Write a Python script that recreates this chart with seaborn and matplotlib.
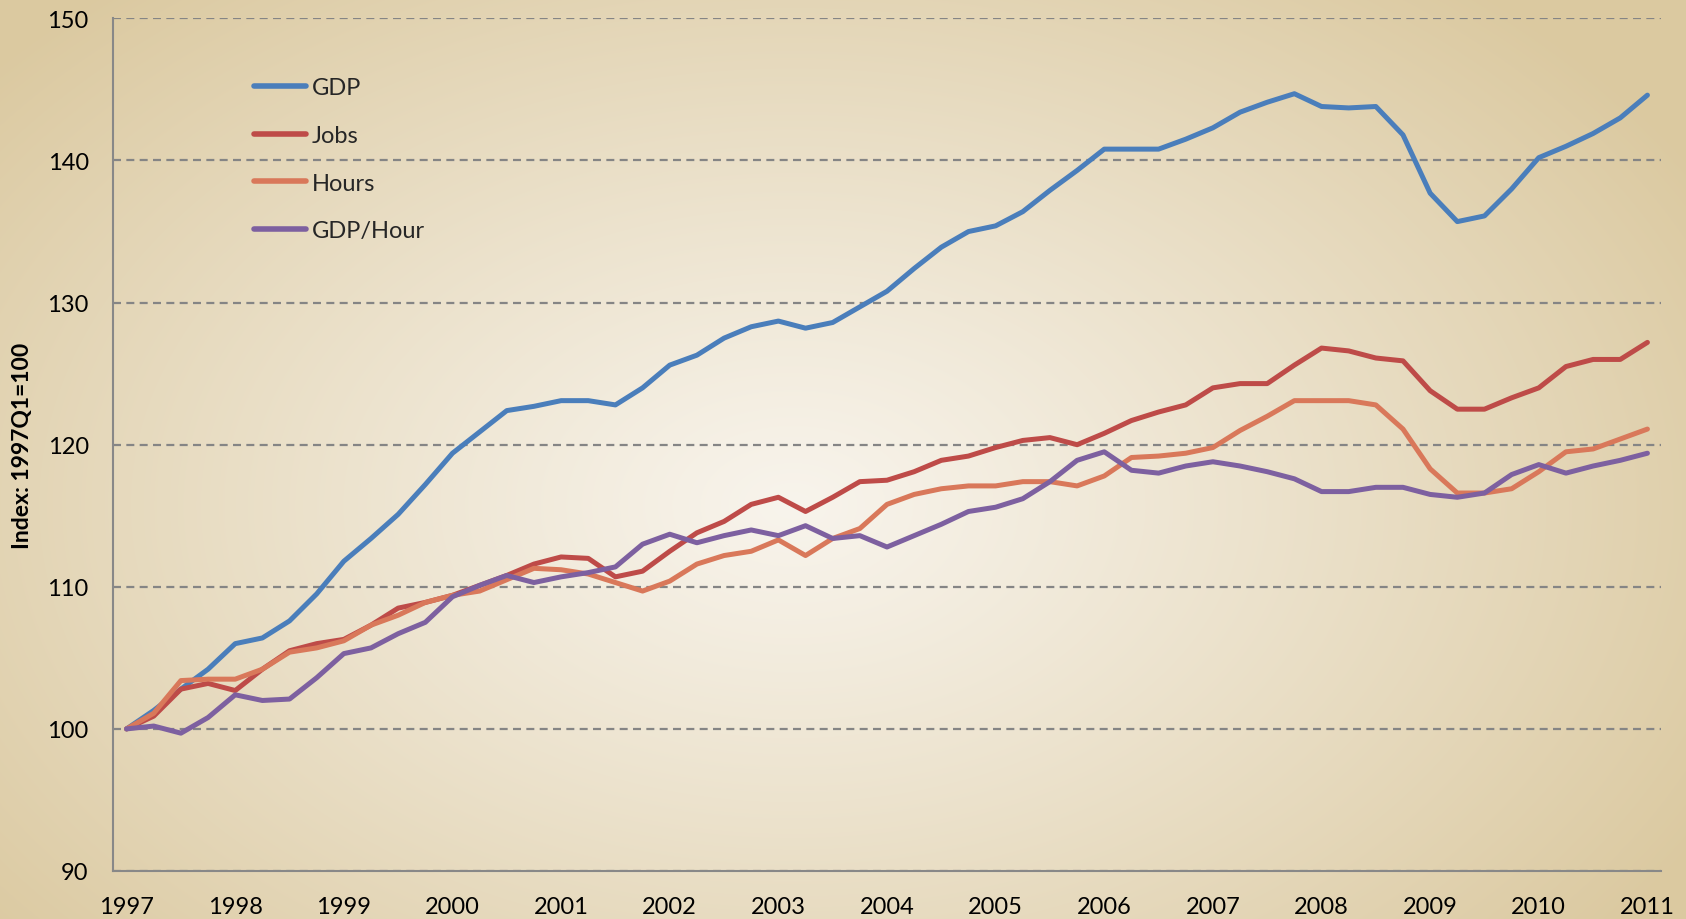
import numpy as np
import pandas as pd
import matplotlib
matplotlib.use("Agg")
import matplotlib.pyplot as plt
from matplotlib.ticker import FixedLocator
import seaborn as sns

years = [str(y) for y in range(1997, 2012)]
quarters = [f"{y}Q{q}" for y in range(1997, 2012) for q in range(1, 5)][:57]

gdp = [100.0, 101.3, 102.8, 104.2, 106.0, 106.4, 107.6, 109.5, 111.8, 113.4, 115.1, 117.2,
       119.4, 120.9, 122.4, 122.7, 123.1, 123.1, 122.8, 124.0, 125.6, 126.3, 127.5, 128.3,
       128.7, 128.2, 128.6, 129.7, 130.8, 132.4, 133.9, 135.0, 135.4, 136.4, 137.9, 139.3,
       140.8, 140.8, 140.8, 141.5, 142.3, 143.4, 144.1, 144.7, 143.8, 143.7, 143.8, 141.8,
       137.7, 135.7, 136.1, 138.0, 140.2, 141.0, 141.9, 143.0, 144.6]
jobs = [100.0, 100.9, 102.8, 103.2, 102.7, 104.2, 105.5, 106.0, 106.3, 107.3, 108.5, 108.9,
        109.4, 110.1, 110.8, 111.6, 112.1, 112.0, 110.7, 111.1, 112.5, 113.8, 114.6, 115.8,
        116.3, 115.3, 116.3, 117.4, 117.5, 118.1, 118.9, 119.2, 119.8, 120.3, 120.5, 120.0,
        120.8, 121.7, 122.3, 122.8, 124.0, 124.3, 124.3, 125.6, 126.8, 126.6, 126.1, 125.9,
        123.8, 122.5, 122.5, 123.3, 124.0, 125.5, 126.0, 126.0, 127.2]
hours = [100.0, 101.1, 103.4, 103.5, 103.5, 104.2, 105.4, 105.7, 106.2, 107.3, 108.0, 108.9,
         109.4, 109.7, 110.5, 111.3, 111.2, 110.9, 110.3, 109.7, 110.4, 111.6, 112.2, 112.5,
         113.3, 112.2, 113.4, 114.1, 115.8, 116.5, 116.9, 117.1, 117.1, 117.4, 117.4, 117.1,
         117.8, 119.1, 119.2, 119.4, 119.8, 121.0, 122.0, 123.1, 123.1, 123.1, 122.8, 121.1,
         118.3, 116.6, 116.6, 116.9, 118.1, 119.5, 119.7, 120.4, 121.1]
gdp_hour = [100.0, 100.2, 99.7, 100.8, 102.4, 102.0, 102.1, 103.6, 105.3, 105.7, 106.7, 107.5,
            109.3, 110.1, 110.8, 110.3, 110.7, 111.0, 111.4, 113.0, 113.7, 113.1, 113.6, 114.0,
            113.6, 114.3, 113.4, 113.6, 112.8, 113.6, 114.4, 115.3, 115.6, 116.2, 117.4, 118.9,
            119.5, 118.2, 118.0, 118.5, 118.8, 118.5, 118.1, 117.6, 116.7, 116.7, 117.0, 117.0,
            116.5, 116.3, 116.6, 117.9, 118.6, 118.0, 118.5, 118.9, 119.4]

series_names = ["GDP", "Jobs", "Hours", "GDP/Hour"]
colors = ["#4a7ebb", "#be4b48", "#d9785a", "#7d60a0"]

idx = np.arange(len(quarters))
df = pd.concat([
    pd.DataFrame({"t": idx, "value": vals, "series": name})
    for name, vals in zip(series_names, [gdp, jobs, hours, gdp_hour])
])

sns.set_theme(style="white")
plt.rcParams["font.family"] = ["Lato", "DejaVu Sans"]

W, H = 1686, 920
fig = plt.figure(figsize=(W / 100, H / 100), dpi=100)

# radial gradient background
bg = fig.add_axes([0, 0, 1, 1], zorder=-10)
yy, xx = np.mgrid[0:H, 0:W]
cx, cy = 0.47 * W, 0.55 * H
r = np.sqrt(((xx - cx) / (0.62 * W)) ** 2 + ((yy - cy) / (0.75 * H)) ** 2)
r = np.clip(r, 0, 1)
inner = np.array([0xf8, 0xf4, 0xec]) / 255
outer = np.array([0xdb, 0xc9, 0xa0]) / 255
t = r ** 1.1
img = inner[None, None, :] * (1 - t[..., None]) + outer[None, None, :] * t[..., None]
bg.imshow(img, aspect="auto", extent=[0, 1, 0, 1])
bg.set_axis_off()

ax = fig.add_axes([113 / W, 1 - 872 / H, (1661 - 113) / W, (872 - 19.4) / H])
ax.set_facecolor("none")

sns.lineplot(data=df, x="t", y="value", hue="series", hue_order=series_names,
             palette=colors, linewidth=3.6, ax=ax, legend=True)

ax.set_xlim(-0.5, len(quarters) - 0.5)
ax.set_ylim(90, 150)
ax.set_yticks(range(90, 151, 10))
ax.yaxis.grid(True, linestyle=(0, (3.6, 2.4)), color="#858585", linewidth=1.6)
ax.set_axisbelow(True)

ax.set_xticks(np.arange(0, len(quarters), 4))
ax.set_xticklabels(years)
ax.xaxis.set_minor_locator(FixedLocator(np.arange(-0.5, len(quarters), 1)))
ax.tick_params(axis="x", which="major", length=0, labelsize=17, pad=18, labelcolor="#000000")
ax.tick_params(axis="x", which="minor", length=6, width=1.5, color="#888888", direction="out")
ax.tick_params(axis="y", which="major", length=6.5, width=1.5, color="#888888",
               direction="out", labelsize=17, pad=11, labelcolor="#000000")

for s in ["top", "right"]:
    ax.spines[s].set_visible(False)
for s in ["left", "bottom"]:
    ax.spines[s].set_color("#888888")
    ax.spines[s].set_linewidth(1.5)

ax.set_xlabel("")
ax.set_ylabel("Index: 1997Q1=100", fontsize=16.5, fontweight="bold", labelpad=10, color="#000000")

leg = ax.legend(title=None, frameon=False, loc="upper left",
                bbox_to_anchor=(0.0911, 0.931), fontsize=17, borderpad=0, borderaxespad=0,
                handlelength=2.2, handletextpad=0.25, labelspacing=1.13)
for line in leg.get_lines():
    line.set_linewidth(4)
    line.set_solid_capstyle("round")

fig.savefig("out.png", dpi=100)
